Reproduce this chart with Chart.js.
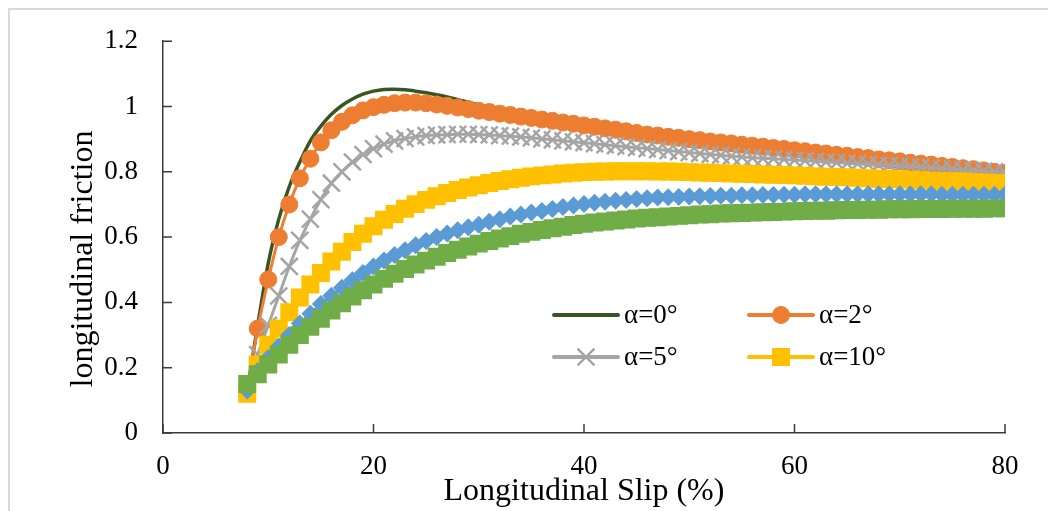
<!DOCTYPE html>
<html>
<head>
<meta charset="utf-8">
<title>Longitudinal friction vs slip</title>
<script src="https://cdn.jsdelivr.net/npm/chart.js@4.4.1/dist/chart.umd.min.js"></script>
<style>
  html, body { margin: 0; padding: 0; background: #fff; overflow: hidden; }
  #wrap { position: relative; width: 1048px; height: 511px; overflow: hidden; }
  #frame { position: absolute; left: 8px; top: 8px; width: 1200px; height: 700px; border: 2px solid #d9d9d9; }
  #chart { position: absolute; left: 0; top: 0; }
</style>
</head>
<body>
<div id="wrap">
  <div id="frame"></div>
  <canvas id="chart" width="1048" height="511"></canvas>
</div>
<script>
// slip values (%)
const slip = [8, 9, 10, 11, 12, 13, 14, 15, 16, 17, 18, 19, 20, 21, 22, 23, 24, 25, 26, 27, 28, 29,
  30, 31, 32, 33, 34, 35, 36, 37, 38, 39, 40, 41, 42, 43, 44, 45, 46, 47, 48, 49, 50, 51, 52, 53, 54,
  55, 56, 57, 58, 59, 60, 61, 62, 63, 64, 65, 66, 67, 68, 69, 70, 71, 72, 73, 74, 75, 76, 77, 78, 79, 80];

const seriesLabels = ["α=0°", "α=2°", "α=5°", "α=10°", "", ""];

// ===============================
//  friction curves
// ===============================
const alpha0 = [0.13, 0.33, 0.52, 0.655, 0.755, 0.83, 0.895, 0.94, 0.976, 1.003, 1.023, 1.038, 1.047, 1.052, 1.053, 1.051, 1.047, 1.042, 1.036, 1.029, 1.021, 1.013,
  1.004, 0.997, 0.99, 0.983, 0.976, 0.97, 0.964, 0.958, 0.953, 0.948, 0.943, 0.938, 0.933, 0.929, 0.924, 0.919, 0.914, 0.911, 0.907, 0.904, 0.9, 0.897, 0.893, 0.89, 0.887,
  0.883, 0.88, 0.877, 0.873, 0.87, 0.866, 0.863, 0.859, 0.856, 0.852, 0.849, 0.845, 0.842, 0.838, 0.835, 0.832, 0.828, 0.825, 0.822, 0.818, 0.815, 0.811, 0.808, 0.804, 0.8, 0.796];

const alpha2 = [0.13, 0.32, 0.47, 0.60, 0.70, 0.78, 0.84, 0.89, 0.927, 0.953, 0.973, 0.988, 0.998, 1.005, 1.01, 1.012, 1.012, 1.01, 1.006, 1.002, 0.997, 0.992,
  0.987, 0.983, 0.978, 0.974, 0.969, 0.965, 0.96, 0.956, 0.951, 0.947, 0.942, 0.938, 0.933, 0.929, 0.924, 0.919, 0.914, 0.911, 0.907, 0.904, 0.9, 0.897, 0.893, 0.89, 0.887,
  0.883, 0.88, 0.877, 0.873, 0.87, 0.866, 0.863, 0.859, 0.856, 0.852, 0.849, 0.845, 0.842, 0.838, 0.835, 0.832, 0.828, 0.825, 0.822, 0.818, 0.815, 0.811, 0.808, 0.804, 0.8, 0.796];

const alpha5 = [0.14, 0.24, 0.33, 0.42, 0.51, 0.59, 0.655, 0.715, 0.765, 0.8, 0.83, 0.853, 0.871, 0.885, 0.895, 0.902, 0.907, 0.911, 0.913, 0.914, 0.915, 0.915,
  0.914, 0.913, 0.911, 0.909, 0.907, 0.904, 0.901, 0.898, 0.895, 0.892, 0.889, 0.886, 0.883, 0.88, 0.877, 0.874, 0.871, 0.868, 0.865, 0.862, 0.859, 0.856, 0.853, 0.851, 0.848,
  0.846, 0.843, 0.841, 0.84, 0.838, 0.836, 0.834, 0.832, 0.83, 0.828, 0.826, 0.825, 0.823, 0.821, 0.82, 0.818, 0.816, 0.814, 0.812, 0.81, 0.808, 0.806, 0.804, 0.802, 0.8, 0.798];

const alpha10 = [0.12, 0.21, 0.27, 0.32, 0.37, 0.415, 0.455, 0.49, 0.525, 0.555, 0.585, 0.61, 0.633, 0.653, 0.671, 0.687, 0.701, 0.714, 0.725, 0.735, 0.744, 0.752,
  0.759, 0.766, 0.772, 0.777, 0.782, 0.786, 0.789, 0.792, 0.795, 0.797, 0.799, 0.8, 0.801, 0.802, 0.802, 0.802, 0.802, 0.801, 0.801, 0.8, 0.799, 0.798, 0.797, 0.796, 0.795,
  0.794, 0.793, 0.792, 0.791, 0.79, 0.789, 0.788, 0.786, 0.785, 0.784, 0.783, 0.782, 0.78, 0.779, 0.778, 0.777, 0.776, 0.774, 0.773, 0.772, 0.771, 0.77, 0.768, 0.767, 0.766, 0.765];

const blueCurve = [0.13, 0.19, 0.23, 0.265, 0.3, 0.335, 0.365, 0.395, 0.42, 0.445, 0.468, 0.49, 0.51, 0.528, 0.545, 0.56, 0.575, 0.588, 0.6, 0.611, 0.621, 0.63,
  0.638, 0.647, 0.655, 0.663, 0.669, 0.675, 0.68, 0.686, 0.692, 0.697, 0.701, 0.705, 0.708, 0.711, 0.714, 0.717, 0.719, 0.721, 0.722, 0.723, 0.724, 0.725, 0.726, 0.727, 0.727,
  0.728, 0.728, 0.729, 0.729, 0.73, 0.73, 0.731, 0.731, 0.731, 0.731, 0.731, 0.731, 0.731, 0.731, 0.731, 0.731, 0.731, 0.731, 0.731, 0.73, 0.73, 0.73, 0.73, 0.73, 0.73, 0.73];

const greenCurve = [0.15, 0.18, 0.21, 0.24, 0.27, 0.30, 0.325, 0.35, 0.375, 0.397, 0.418, 0.437, 0.455, 0.472, 0.488, 0.502, 0.516, 0.528, 0.54, 0.551, 0.561, 0.571,
  0.58, 0.588, 0.596, 0.603, 0.61, 0.616, 0.622, 0.627, 0.632, 0.637, 0.641, 0.645, 0.648, 0.651, 0.654, 0.657, 0.659, 0.661, 0.663, 0.665, 0.667, 0.669, 0.67, 0.672, 0.673,
  0.674, 0.675, 0.676, 0.677, 0.678, 0.679, 0.68, 0.681, 0.681, 0.682, 0.683, 0.683, 0.684, 0.684, 0.685, 0.685, 0.685, 0.686, 0.686, 0.686, 0.687, 0.687, 0.687, 0.687, 0.688, 0.688];

const xTicks = [0, 20, 40, 60, 80];
const yTicks = [0, 0.2, 0.4, 0.6, 0.8, 1, 1.2];

const FONT = "'Liberation Serif', 'Times New Roman', serif";
const AXIS_COLOR = "#3a3a3a";

const toPoints = arr => slip.map((s, i) => ({ x: s, y: arr[i] }));

// ===============================
//  DATASETS
// ===============================
const datasets = [
  { label: seriesLabels[0], data: toPoints(alpha0), borderColor: "#375623", borderWidth: 3.5,
    pointRadius: 0, pointStyle: false, order: 6 },
  { label: seriesLabels[1], data: toPoints(alpha2), borderColor: "#ed7d31", borderWidth: 3,
    pointStyle: "circle", pointRadius: 8.5, pointBackgroundColor: "#ed7d31", pointBorderColor: "#ed7d31", pointBorderWidth: 1, order: 5 },
  { label: seriesLabels[2], data: toPoints(alpha5), borderColor: "#a5a5a5", borderWidth: 3,
    pointStyle: "crossRot", pointRadius: 12, pointBackgroundColor: "#a5a5a5", pointBorderColor: "#a5a5a5", pointBorderWidth: 2.5, order: 4 },
  { label: seriesLabels[3], data: toPoints(alpha10), borderColor: "#ffc000", borderWidth: 3,
    pointStyle: "rect", pointRadius: 12.7, pointBackgroundColor: "#ffc000", pointBorderColor: "#ffc000", pointBorderWidth: 0, order: 3 },
  { label: seriesLabels[4], data: toPoints(blueCurve), borderColor: "#5b9bd5", borderWidth: 3,
    pointStyle: "rectRot", pointRadius: 9, pointBackgroundColor: "#5b9bd5", pointBorderColor: "#5b9bd5", pointBorderWidth: 0, order: 2 },
  { label: seriesLabels[5], data: toPoints(greenCurve), borderColor: "#70ad47", borderWidth: 3,
    pointStyle: "rect", pointRadius: 12.7, pointBackgroundColor: "#70ad47", pointBorderColor: "#70ad47", pointBorderWidth: 0, order: 1 }
];

// ===============================
//  PLUGIN: inner ticks, y title, legend
// ===============================
const decorPlugin = {
  id: "decor",
  afterDraw(chart) {
    const { ctx, chartArea, scales } = chart;
    ctx.save();

    // inward tick marks
    ctx.strokeStyle = AXIS_COLOR;
    ctx.lineWidth = 1.5;
    ctx.beginPath();
    xTicks.forEach(v => {
      const px = scales.x.getPixelForValue(v);
      ctx.moveTo(px, chartArea.bottom);
      ctx.lineTo(px, chartArea.bottom - 9);
    });
    yTicks.forEach(v => {
      const py = scales.y.getPixelForValue(v);
      ctx.moveTo(chartArea.left, py);
      ctx.lineTo(chartArea.left + 9, py);
    });
    ctx.stroke();

    // y title
    ctx.fillStyle = "#000";
    ctx.font = "32px " + FONT;
    ctx.textAlign = "center";
    ctx.textBaseline = "middle";
    ctx.translate(84, 259);
    ctx.rotate(-Math.PI / 2);
    ctx.fillText("longitudinal friction", 0, 0);
    ctx.setTransform(1, 0, 0, 1, 0, 0);

    // legend (2 x 2, inside plot)
    const spots = [[554, 315], [749, 315], [554, 357], [749, 357]];
    spots.forEach(([lx, ly], i) => {
      const ds = chart.data.datasets[i];
      ctx.strokeStyle = ds.borderColor;
      ctx.lineWidth = 4;
      ctx.lineCap = "round";
      ctx.beginPath();
      ctx.moveTo(lx, ly);
      ctx.lineTo(lx + 64, ly);
      ctx.stroke();
      if (ds.pointStyle) {
        ctx.fillStyle = ds.pointBackgroundColor;
        ctx.strokeStyle = ds.pointBorderColor;
        ctx.lineWidth = ds.pointBorderWidth;
        ctx.lineCap = "butt";
        Chart.helpers.drawPoint(ctx, {
          pointStyle: ds.pointStyle, radius: ds.pointRadius, rotation: 0, borderWidth: ds.pointBorderWidth
        }, lx + 32, ly);
      }
      ctx.fillStyle = "#000";
      ctx.font = "27px " + FONT;
      ctx.textAlign = "left";
      ctx.textBaseline = "middle";
      ctx.fillText(ds.label, lx + 70, ly + 1);
    });

    ctx.restore();
  }
};

// ===============================
//  CHART
// ===============================
new Chart(document.getElementById("chart"), {
  type: "line",
  data: { datasets },
  options: {
    responsive: false,
    animation: false,
    events: [],
    layout: { padding: { left: 0, right: 43, top: 37, bottom: 0 } },
    plugins: { legend: { display: false }, tooltip: { enabled: false } },
    elements: { line: { tension: 0.3, fill: false } },
    scales: {
      x: {
        type: "linear",
        min: 0, max: 80,
        afterBuildTicks: s => { s.ticks = xTicks.map(v => ({ value: v })); },
        afterFit: s => { s.height = 78; },
        grid: { drawOnChartArea: false, drawTicks: false },
        border: { color: AXIS_COLOR, width: 1.5 },
        ticks: { padding: 18, color: "#000", font: { family: FONT, size: 27 } },
        title: { display: true, text: "Longitudinal Slip (%)", color: "#000",
                 padding: { top: 0, bottom: 0 }, font: { family: FONT, size: 32 } }
      },
      y: {
        min: 0, max: 1.2,
        afterBuildTicks: s => { s.ticks = yTicks.map(v => ({ value: v })); },
        afterFit: s => { s.width = 163; },
        grid: { drawOnChartArea: false, drawTicks: false },
        border: { color: AXIS_COLOR, width: 1.5 },
        ticks: { padding: 25, color: "#000", font: { family: FONT, size: 27 },
                 callback: v => String(Number(v.toFixed(1))) },
        title: { display: false }
      }
    }
  },
  plugins: [decorPlugin]
});
</script>
</body>
</html>
